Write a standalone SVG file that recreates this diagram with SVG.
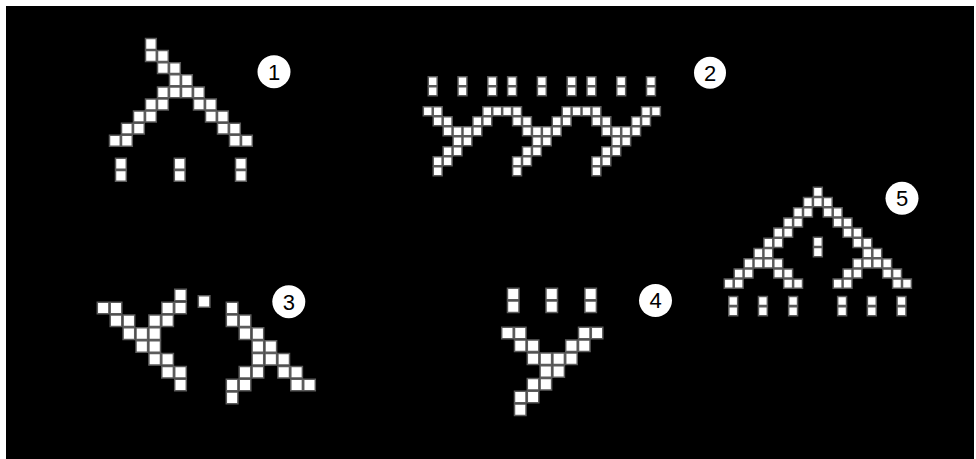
<svg xmlns="http://www.w3.org/2000/svg" xmlns:xlink="http://www.w3.org/1999/xlink" width="976" height="459" viewBox="0 0 976 459">
<style>
.c{fill:#fff;stroke:#5c5c5c;stroke-width:1.5;vector-effect:non-scaling-stroke}
.b{fill:#fff}
.t{font-family:"Liberation Sans",Arial,sans-serif;font-size:22px;fill:#000;text-anchor:middle}
</style>
<defs>
<rect id="c" class="c" x="0" y="0" width="0.9" height="0.9"/>
</defs>
<rect width="976" height="459" fill="#fff"/>
<rect x="6" y="6" width="968" height="453" fill="#000"/>

<g id="figure1" transform="translate(109.5,38.5) scale(12,12.1)">
<use href="#c" x="3" y="0"/>
<use href="#c" x="3" y="1"/><use href="#c" x="4" y="1"/>
<use href="#c" x="4" y="2"/><use href="#c" x="5" y="2"/>
<use href="#c" x="5" y="3"/><use href="#c" x="6" y="3"/>
<use href="#c" x="4" y="4"/><use href="#c" x="5" y="4"/><use href="#c" x="6" y="4"/><use href="#c" x="7" y="4"/>
<use href="#c" x="3" y="5"/><use href="#c" x="4" y="5"/><use href="#c" x="7" y="5"/><use href="#c" x="8" y="5"/>
<use href="#c" x="2" y="6"/><use href="#c" x="3" y="6"/><use href="#c" x="8" y="6"/><use href="#c" x="9" y="6"/>
<use href="#c" x="1" y="7"/><use href="#c" x="2" y="7"/><use href="#c" x="9" y="7"/><use href="#c" x="10" y="7"/>
<use href="#c" x="0" y="8"/><use href="#c" x="1" y="8"/><use href="#c" x="10" y="8"/><use href="#c" x="11" y="8"/>
<use href="#c" x="0.5" y="9.9"/><use href="#c" x="0.5" y="10.9"/>
<use href="#c" x="5.4" y="9.9"/><use href="#c" x="5.4" y="10.9"/>
<use href="#c" x="10.5" y="9.9"/><use href="#c" x="10.5" y="10.9"/>
</g>

<g id="figure2" transform="translate(423.3,106.7) scale(9.92,10)">
<use href="#c" x="0.5" y="-3"/><use href="#c" x="0.5" y="-2"/>
<use href="#c" x="3.5" y="-3"/><use href="#c" x="3.5" y="-2"/>
<use href="#c" x="6.5" y="-3"/><use href="#c" x="6.5" y="-2"/>
<use href="#c" x="8.5" y="-3"/><use href="#c" x="8.5" y="-2"/>
<use href="#c" x="11.5" y="-3"/><use href="#c" x="11.5" y="-2"/>
<use href="#c" x="14.5" y="-3"/><use href="#c" x="14.5" y="-2"/>
<use href="#c" x="16.5" y="-3"/><use href="#c" x="16.5" y="-2"/>
<use href="#c" x="19.5" y="-3"/><use href="#c" x="19.5" y="-2"/>
<use href="#c" x="22.5" y="-3"/><use href="#c" x="22.5" y="-2"/>
<use href="#c" x="0" y="0"/><use href="#c" x="1" y="0"/><use href="#c" x="6" y="0"/><use href="#c" x="7" y="0"/><use href="#c" x="8" y="0"/><use href="#c" x="9" y="0"/><use href="#c" x="14" y="0"/><use href="#c" x="15" y="0"/><use href="#c" x="16" y="0"/><use href="#c" x="17" y="0"/><use href="#c" x="22" y="0"/><use href="#c" x="23" y="0"/>
<use href="#c" x="1" y="1"/><use href="#c" x="2" y="1"/><use href="#c" x="5" y="1"/><use href="#c" x="6" y="1"/><use href="#c" x="9" y="1"/><use href="#c" x="10" y="1"/><use href="#c" x="13" y="1"/><use href="#c" x="14" y="1"/><use href="#c" x="17" y="1"/><use href="#c" x="18" y="1"/><use href="#c" x="21" y="1"/><use href="#c" x="22" y="1"/>
<use href="#c" x="2" y="2"/><use href="#c" x="3" y="2"/><use href="#c" x="4" y="2"/><use href="#c" x="5" y="2"/><use href="#c" x="10" y="2"/><use href="#c" x="11" y="2"/><use href="#c" x="12" y="2"/><use href="#c" x="13" y="2"/><use href="#c" x="18" y="2"/><use href="#c" x="19" y="2"/><use href="#c" x="20" y="2"/><use href="#c" x="21" y="2"/>
<use href="#c" x="3" y="3"/><use href="#c" x="4" y="3"/><use href="#c" x="11" y="3"/><use href="#c" x="12" y="3"/><use href="#c" x="19" y="3"/><use href="#c" x="20" y="3"/>
<use href="#c" x="2" y="4"/><use href="#c" x="3" y="4"/><use href="#c" x="10" y="4"/><use href="#c" x="11" y="4"/><use href="#c" x="18" y="4"/><use href="#c" x="19" y="4"/>
<use href="#c" x="1" y="5"/><use href="#c" x="2" y="5"/><use href="#c" x="9" y="5"/><use href="#c" x="10" y="5"/><use href="#c" x="17" y="5"/><use href="#c" x="18" y="5"/>
<use href="#c" x="1" y="6"/><use href="#c" x="9" y="6"/><use href="#c" x="17" y="6"/>
</g>

<g id="figure3" transform="translate(97.3,289.3) scale(12.9,12.85)">
<use href="#c" x="6" y="0"/>
<use href="#c" x="0" y="1"/><use href="#c" x="1" y="1"/><use href="#c" x="5" y="1"/><use href="#c" x="6" y="1"/><use href="#c" x="10" y="1"/>
<use href="#c" x="1" y="2"/><use href="#c" x="2" y="2"/><use href="#c" x="4" y="2"/><use href="#c" x="5" y="2"/><use href="#c" x="10" y="2"/><use href="#c" x="11" y="2"/>
<use href="#c" x="2" y="3"/><use href="#c" x="3" y="3"/><use href="#c" x="4" y="3"/><use href="#c" x="11" y="3"/><use href="#c" x="12" y="3"/>
<use href="#c" x="3" y="4"/><use href="#c" x="4" y="4"/><use href="#c" x="12" y="4"/><use href="#c" x="13" y="4"/>
<use href="#c" x="4" y="5"/><use href="#c" x="5" y="5"/><use href="#c" x="12" y="5"/><use href="#c" x="13" y="5"/><use href="#c" x="14" y="5"/>
<use href="#c" x="5" y="6"/><use href="#c" x="6" y="6"/><use href="#c" x="11" y="6"/><use href="#c" x="12" y="6"/><use href="#c" x="14" y="6"/><use href="#c" x="15" y="6"/>
<use href="#c" x="6" y="7"/><use href="#c" x="10" y="7"/><use href="#c" x="11" y="7"/><use href="#c" x="15" y="7"/><use href="#c" x="16" y="7"/>
<use href="#c" x="10" y="8"/>
<use href="#c" x="7.83" y="0.5"/>
</g>

<g id="figure4" transform="translate(501.7,327.3) scale(12.8,12.8)">
<use href="#c" x="0.45" y="-3.05"/><use href="#c" x="0.45" y="-2.05"/>
<use href="#c" x="3.46" y="-3.05"/><use href="#c" x="3.46" y="-2.05"/>
<use href="#c" x="6.5" y="-3.05"/><use href="#c" x="6.5" y="-2.05"/>
<use href="#c" x="0" y="0"/><use href="#c" x="1" y="0"/><use href="#c" x="6" y="0"/><use href="#c" x="7" y="0"/>
<use href="#c" x="1" y="1"/><use href="#c" x="2" y="1"/><use href="#c" x="5" y="1"/><use href="#c" x="6" y="1"/>
<use href="#c" x="2" y="2"/><use href="#c" x="3" y="2"/><use href="#c" x="4" y="2"/><use href="#c" x="5" y="2"/>
<use href="#c" x="3" y="3"/><use href="#c" x="4" y="3"/>
<use href="#c" x="2" y="4"/><use href="#c" x="3" y="4"/>
<use href="#c" x="1" y="5"/><use href="#c" x="2" y="5"/>
<use href="#c" x="1" y="6"/>
</g>

<g id="figure5" transform="translate(724.3,187.3) scale(9.9,10.2)">
<use href="#c" x="9" y="0"/>
<use href="#c" x="8" y="1"/><use href="#c" x="9" y="1"/><use href="#c" x="10" y="1"/>
<use href="#c" x="7" y="2"/><use href="#c" x="8" y="2"/><use href="#c" x="10" y="2"/><use href="#c" x="11" y="2"/>
<use href="#c" x="6" y="3"/><use href="#c" x="7" y="3"/><use href="#c" x="11" y="3"/><use href="#c" x="12" y="3"/>
<use href="#c" x="5" y="4"/><use href="#c" x="6" y="4"/><use href="#c" x="12" y="4"/><use href="#c" x="13" y="4"/>
<use href="#c" x="4" y="5"/><use href="#c" x="5" y="5"/><use href="#c" x="13" y="5"/><use href="#c" x="14" y="5"/>
<use href="#c" x="3" y="6"/><use href="#c" x="4" y="6"/><use href="#c" x="14" y="6"/><use href="#c" x="15" y="6"/>
<use href="#c" x="2" y="7"/><use href="#c" x="3" y="7"/><use href="#c" x="4" y="7"/><use href="#c" x="5" y="7"/><use href="#c" x="13" y="7"/><use href="#c" x="14" y="7"/><use href="#c" x="15" y="7"/><use href="#c" x="16" y="7"/>
<use href="#c" x="1" y="8"/><use href="#c" x="2" y="8"/><use href="#c" x="5" y="8"/><use href="#c" x="6" y="8"/><use href="#c" x="12" y="8"/><use href="#c" x="13" y="8"/><use href="#c" x="16" y="8"/><use href="#c" x="17" y="8"/>
<use href="#c" x="0" y="9"/><use href="#c" x="1" y="9"/><use href="#c" x="6" y="9"/><use href="#c" x="7" y="9"/><use href="#c" x="11" y="9"/><use href="#c" x="12" y="9"/><use href="#c" x="17" y="9"/><use href="#c" x="18" y="9"/>
<use href="#c" x="9" y="4.9"/><use href="#c" x="9" y="5.9"/>
<use href="#c" x="0.45" y="10.7"/><use href="#c" x="0.45" y="11.7"/>
<use href="#c" x="3.45" y="10.7"/><use href="#c" x="3.45" y="11.7"/>
<use href="#c" x="6.5" y="10.7"/><use href="#c" x="6.5" y="11.7"/>
<use href="#c" x="11.45" y="10.7"/><use href="#c" x="11.45" y="11.7"/>
<use href="#c" x="14.45" y="10.7"/><use href="#c" x="14.45" y="11.7"/>
<use href="#c" x="17.45" y="10.7"/><use href="#c" x="17.45" y="11.7"/>
</g>

<g id="label1"><circle class="b" cx="274" cy="71.7" r="16.5"/><text class="t" x="274" y="79.6">1</text></g>
<g id="label2"><circle class="b" cx="710" cy="72.7" r="16"/><text class="t" x="710" y="80.6">2</text></g>
<g id="label3"><circle class="b" cx="288.8" cy="301.7" r="16.5"/><text class="t" x="288.8" y="309.6">3</text></g>
<g id="label4"><circle class="b" cx="655.5" cy="300.5" r="16.5"/><text class="t" x="655.5" y="308.4">4</text></g>
<g id="label5"><circle class="b" cx="902" cy="198.3" r="16.5"/><text class="t" x="902" y="206.2">5</text></g>
</svg>
